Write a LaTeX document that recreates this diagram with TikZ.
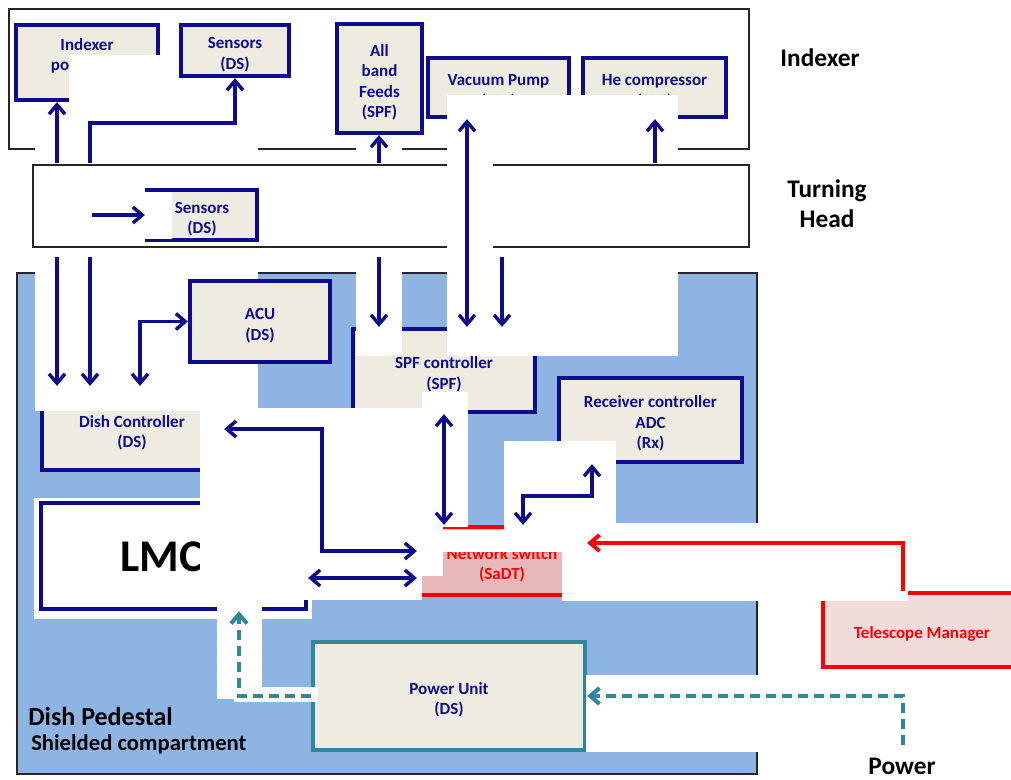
\documentclass[tikz,border=0pt]{standalone}
\usepackage{fontspec}
\setmainfont{Carlito}
\usetikzlibrary{arrows.meta}
\definecolor{navy}{RGB}{12,12,140}
\definecolor{beige}{RGB}{238,236,225}
\definecolor{pedblue}{RGB}{142,180,227}
\definecolor{swred}{RGB}{255,0,0}
\definecolor{swfill}{RGB}{230,185,184}
\definecolor{tmfill}{RGB}{242,220,219}
\definecolor{pucol}{RGB}{49,133,156}
\newcommand\bxfont{\bfseries\fontsize{12.75}{15.4}\selectfont}
\newcommand\lblfont{\bfseries\fontsize{19}{22.5}\selectfont}
% taller first line, so the lines sit a little lower in their box
\newcommand\lift{\rule{0pt}{14.5pt}}
\tikzset{
  frame/.style={draw=black!85, line width=0.8pt, fill=white, inner sep=0pt},
  unit/.style={draw=navy, line width=3.2pt, fill=beige, inner sep=0pt,
    text=navy, font=\bxfont, align=center},
  redunit/.style={unit, draw=swred, text=swred},
  pwrunit/.style={unit, draw=pucol},
  arr/.style={draw=navy, line width=2.6pt},
  redarr/.style={draw=swred, line width=3pt},
  pwrarr/.style={draw=pucol, line width=3pt, dash pattern=on 7.5pt off 4.5pt},
  lbl/.style={font=\lblfont, text=black, align=center, inner sep=0pt},
  patch/.style={fill=white}
}
\begin{document}
\begin{tikzpicture}[x=0.75pt, y=-0.75pt,
  >={Straight Barb[length=7pt,width=12pt]}]
\useasboundingbox (0,0) rectangle (1011,779);
\clip (0,0) rectangle (1011,779);

% containers
\node[frame, minimum width=555pt, minimum height=105pt] (indexer) at (379,79) {};
\node[frame, minimum width=537pt, minimum height=61.5pt] (head) at (391,206) {};
\node[frame, fill=pedblue, minimum width=555pt, minimum height=375.75pt] (pedestal) at (387,523.5) {};
\fill[patch] (34,498) rectangle (312,619);

% units
\node[unit, minimum width=106.5pt, minimum height=56.25pt] (ip) at (87,62.5) {\lift Indexer\\positioner\\(DS)};
\node[unit, minimum width=81pt, minimum height=38.25pt] (sensI) at (235,50.5) {\lift Sensors\\(DS)};
\node[unit, minimum width=63.75pt, minimum height=81.75pt] (feeds) at (379.5,78.5) {\lift All\\band\\Feeds\\(SPF)};
\node[unit, minimum width=105.75pt, minimum height=44.25pt] (vac) at (498.5,87.5) {\lift Vacuum Pump\\(SPF)};
\node[unit, minimum width=107.25pt, minimum height=44.25pt] (hecomp) at (654.5,87.5) {\lift He compressor\\(SPF)};
\node[unit, minimum width=82.5pt, minimum height=37.5pt] (sensT) at (202,215) {\lift Sensors\\(DS)};
\node[unit, minimum width=135pt, minimum height=61.5pt] (dc) at (132,429) {\lift Dish Controller\\(DS)};
\node[unit, minimum width=136.5pt, minimum height=62.25pt] (spf) at (444,370.5) {\lift SPF controller\\(SPF)};
\node[unit, minimum width=137.25pt, minimum height=63pt] (rx) at (650.5,420) {\lift Receiver controller\\ADC\\(Rx)};
\node[unit, fill=white, minimum width=198.75pt, minimum height=79.5pt] (lmc) at (173.5,556) {};
\node[font=\bfseries\fontsize{34}{40}\selectfont, text=black] (lmctext) at (162,557) {LMC};
\node[redunit, fill=swfill, minimum width=124.5pt, minimum height=51pt] (ns) at (502,561) {\lift Network switch\\(SaDT)};
\node[pwrunit, minimum width=204pt, minimum height=81pt] (pu) at (449,696) {\lift Power Unit\\(DS)};
\node[redunit, fill=tmfill, minimum width=148.5pt, minimum height=55.5pt] (tm) at (922,630) {\lift Telescope Manager};

% blanked areas
\fill[patch] (69,55) rectangle (162,104);
\fill[patch] (35,143) rectangle (258,163);
\fill[patch] (356,143) rectangle (402,163);
\fill[patch] (447,95) rectangle (678,163);
\fill[patch] (447,163) rectangle (493,250);
\fill[patch] (447,250) rectangle (678,356);
\fill[patch] (356,250) rectangle (402,356);
\fill[patch] (35,249) rectangle (258,411);
\fill[patch] (200,408) rectangle (422,600);
\fill[patch] (422,392) rectangle (468,527);
\fill[patch] (417,527) rectangle (443,576);
\fill[patch] (443,530) rectangle (504,551.5);
\fill[patch] (504,441) rectangle (616,551.5);
\fill[patch] (562,523) rectangle (908,601);
\fill[patch] (586,675) rectangle (760,752);
\fill[patch] (145,192) rectangle (172,239);
\fill[patch] (217,600) rectangle (262,699);
\fill[patch] (234,687) rectangle (318,702);

\node[unit, minimum width=105pt, minimum height=60.75pt] (acu) at (260,321.5) {\lift ACU\\(DS)};

% signal connectors
\coordinate (a1) at (57,163);
\coordinate (a2) at (57,257);
\draw[arr,->] (a1) -- (a1 |- ip.south);
\draw[arr,->] (a2) -- (a2 |- dc.north);

\coordinate (b1) at (90,163);
\coordinate (b2) at (90,123);
\coordinate (b3) at (90,257);
\draw[arr,->] (b1) -- (b2) -| (sensI.south);
\draw[arr,->] (b3) -- (b3 |- dc.north);

\coordinate (t1) at (92,215);
\draw[arr,->] (t1) -- (t1 -| sensT.west);

\coordinate (c1) at (140,0);
\draw[arr,<->] (c1 |- dc.north) |- (acu.west);

\coordinate (d1) at (322,551);
\draw[arr,<->] (dc.east) -| (d1) -- (d1 -| ns.west);

\coordinate (e1) at (0,578);
\draw[arr,<->] (lmc.east |- e1) -- (ns.west |- e1);

\draw[arr,<->] (spf.south) -- (spf.south |- ns.north);

\coordinate (f1) at (523,496);
\coordinate (f2) at (592,496);
\draw[arr,<->] (f1 |- ns.north) -- (f1) -- (f2) -- (f2 |- rx.south);

\coordinate (g1) at (379,163);
\coordinate (g2) at (379,257);
\draw[arr,->] (g1) -- (g1 |- feeds.south);
\draw[arr,->] (g2) -- (g2 |- spf.north);

\coordinate (h1) at (467,0);
\draw[arr,<->] (h1 |- spf.north) -- (h1 |- vac.south);

\coordinate (i1) at (502,257);
\draw[arr,->] (i1) -- (i1 |- spf.north);

\coordinate (j1) at (655,163);
\draw[arr,->] (j1) -- (j1 |- hecomp.south);

\coordinate (m1) at (903,543);
\draw[redarr,->] (m1 |- tm.north) -- (m1) -- (m1 -| ns.east);

% power feeds
\coordinate (pwr) at (903,745);
\draw[pwrarr,->] (pwr) |- (pu.east);
\coordinate (n1) at (239,0);
\draw[pwrarr,->] (pu.west) -| (n1 |- lmc.south);

% labels
\node[lbl] (idxlabel) at (820,58) {Indexer};
\node[lbl] (headlabel) at (827,204) {Turning\\Head};
\node[lbl, anchor=west, font=\bfseries\fontsize{19.5}{22}\selectfont] (pedlabel) at (28,716) {Dish Pedestal};
\node[lbl, anchor=west, font=\bfseries\fontsize{17}{20}\selectfont] (shlabel) at (31,744) {Shielded compartment};
\node[lbl] (pwrlabel) at (902,766) {Power};
\end{tikzpicture}
\end{document}
